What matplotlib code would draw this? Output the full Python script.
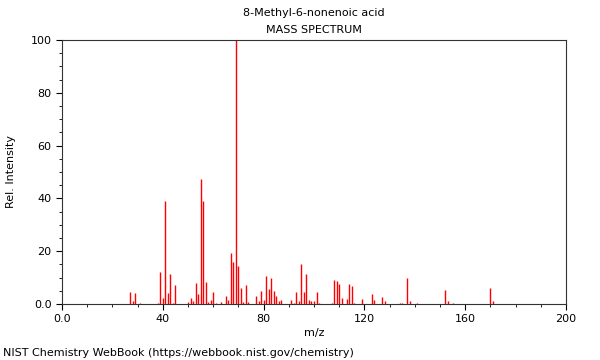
import matplotlib
matplotlib.use("Agg")
import matplotlib.pyplot as plt
from matplotlib.ticker import MultipleLocator, FuncFormatter

# m/z and relative intensity
mz = [27, 28, 29, 31, 38, 39, 40, 41, 42, 43, 44, 45, 50, 51, 52, 53, 54,
      55, 56, 57, 58, 59, 60, 61, 63, 65, 66, 67, 68, 69, 70, 71, 72, 73,
      74, 77, 78, 79, 80, 81, 82, 83, 84, 85, 86, 87, 91, 92, 93, 94, 95,
      96, 97, 98, 99, 100, 101, 102, 107, 108, 109, 110, 111, 113, 114,
      115, 116, 119, 123, 124, 127, 128, 134, 135, 137, 138, 141, 152,
      153, 155, 170, 171]
intensity = [4.7, 1.2, 4.1, 0.5, 0.5, 12.2, 2.4, 39.1, 4.3, 11.2, 0.5, 7.2,
             0.8, 2.1, 1.2, 7.8, 3.8, 47.3, 39.1, 8.2, 0.8, 1.5, 4.7, 0.5,
             0.8, 3.2, 1.5, 19.2, 15.9, 100.0, 14.4, 5.9, 0.8, 7.2, 0.8,
             3.0, 1.0, 4.9, 1.5, 10.6, 5.7, 10.0, 4.9, 3.0, 1.0, 1.5, 1.5,
             0.5, 4.5, 1.0, 15.3, 4.5, 11.4, 1.5, 1.0, 1.0, 4.4, 0.5, 0.5,
             9.1, 8.8, 7.6, 2.1, 1.9, 7.6, 6.8, 0.5, 1.9, 3.7, 1.5, 2.6,
             1.0, 0.3, 0.3, 9.7, 1.0, 0.5, 5.3, 1.0, 0.3, 6.1, 1.0]

fig = plt.figure(figsize=(6, 3.6), dpi=100)
ax = fig.add_axes([62 / 600, 56 / 360, 504 / 600, 264 / 360])

ax.vlines(mz, 0, intensity, colors="red", linewidth=1.0)

ax.set_xlim(0, 200)
ax.set_ylim(0, 100)
ax.xaxis.set_major_locator(MultipleLocator(40))
ax.xaxis.set_minor_locator(MultipleLocator(10))
ax.yaxis.set_major_locator(MultipleLocator(20))
ax.yaxis.set_minor_locator(MultipleLocator(5))
fmt = FuncFormatter(lambda v, p: "0.0" if v == 0 else f"{v:.0f}")
ax.xaxis.set_major_formatter(fmt)
ax.yaxis.set_major_formatter(fmt)
ax.tick_params(which="both", direction="out", labelsize=8, top=False, right=False)
ax.tick_params(which="major", length=4)
ax.tick_params(which="minor", length=2)
for s in ax.spines.values():
    s.set_color("#333333")

ax.set_xlabel("m/z", fontsize=8)
ax.set_ylabel("Rel. Intensity", fontsize=8)
ax.yaxis.set_label_coords(-46 / 504, 0.5)
ax.xaxis.set_label_coords(0.5, -24 / 264)

fig.text(314 / 600, 1 - 13 / 360, "8-Methyl-6-nonenoic acid", ha="center", va="center", fontsize=8)
fig.text(314 / 600, 1 - 30 / 360, "MASS SPECTRUM", ha="center", va="center", fontsize=8)
fig.text(3 / 600, 1 - 353 / 360, "NIST Chemistry WebBook (https://webbook.nist.gov/chemistry)",
         ha="left", va="center", fontsize=8)

fig.savefig("out.png", dpi=100)
